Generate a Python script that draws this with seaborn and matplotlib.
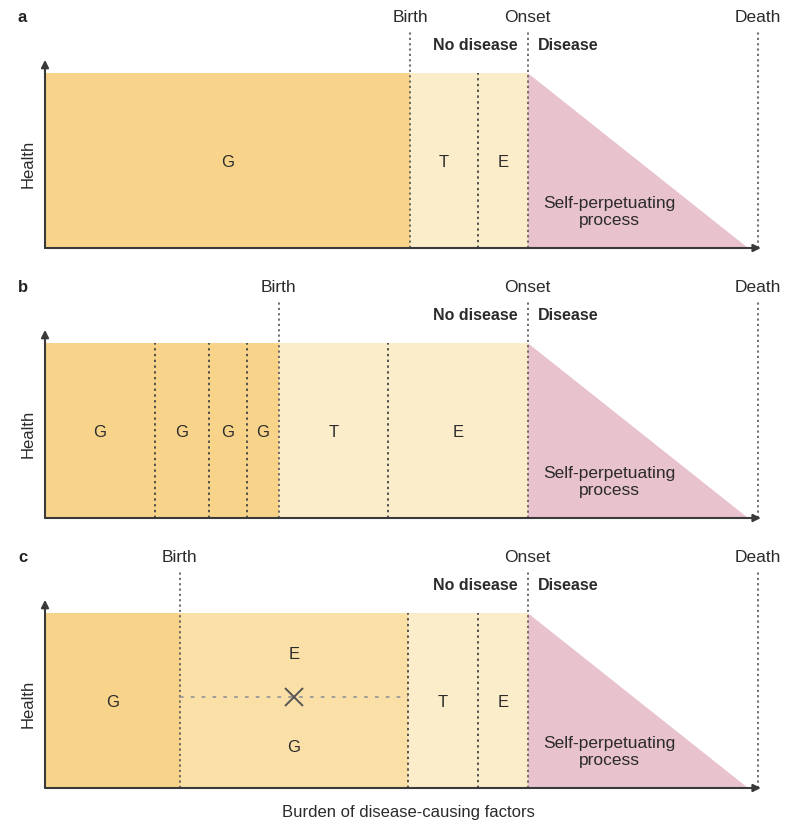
import matplotlib
matplotlib.use("Agg")
import matplotlib.pyplot as plt
import seaborn as sns

sns.set_theme(style="white")
plt.rcParams['font.family'] = ['Liberation Sans', 'DejaVu Sans']

# burden of disease-causing factors, 0 = conception, 100 = death
death = 100.0
tri_end = 98.6

# panel a
a_edges = [0, 51.2, 60.7, 67.7]
a_kinds = ["gene", "post", "post"]
a_labels = ["G", "T", "E"]
a_birth = 51.2
a_inner = [60.7]

# panel b
b_edges = [0, 15.4, 23.0, 28.3, 32.8, 48.1, 67.7]
b_kinds = ["gene", "gene", "gene", "gene", "post", "post"]
b_labels = ["G", "G", "G", "G", "T", "E"]
b_birth = 32.8
b_inner = [15.4, 23.0, 28.3, 48.1]

# panel c
c_edges = [0, 18.9, 50.9, 60.7, 67.7]
c_kinds = ["gene", "mix", "post", "post"]
c_labels = ["G", "", "T", "E"]
c_birth = 18.9
c_inner = [50.9, 60.7]

onset = 67.7

colors = {"gene": "#F8D48B", "mix": "#FADFA6", "post": "#FCEDCA"}
pink = "#E8C2CD"
txt = "#2b2b2b"
dot = (0, (1.3, 1.9))

fig = plt.figure(figsize=(7.92, 8.24), dpi=100)

panels = [
    ("a", a_edges, a_kinds, a_labels, a_birth, a_inner, 248),
    ("b", b_edges, b_kinds, b_labels, b_birth, b_inner, 518),
    ("c", c_edges, c_kinds, c_labels, c_birth, c_inner, 788),
]

for letter, edges, kinds, labels, birth, inner, bottom_px in panels:
    ax = fig.add_axes([45 / 792, (824 - bottom_px) / 824, 713 / 792, 175 / 824])
    ax.set_xlim(0, death)
    ax.set_ylim(0, 1)
    ax.axis("off")

    # shaded blocks
    for x0, x1, kind, lab in zip(edges[:-1], edges[1:], kinds, labels):
        ax.fill_between([x0, x1], 0, 1, color=colors[kind], lw=0)
        if lab:
            ax.text((x0 + x1) / 2, 0.49, lab, ha="center", va="center",
                    fontsize=12, color=txt)

    # self-perpetuating disease process
    ax.fill([onset, onset, tri_end], [0, 1, 0], color=pink, lw=0)
    ax.text(79.2, 0.205, "Self-perpetuating\nprocess", ha="center", va="center",
            fontsize=12.5, color=txt, linespacing=1.2)

    # inner dividers
    for x in inner:
        ax.vlines(x, 0, 1, color="#444444", lw=1.3, linestyles=dot)

    # milestone lines
    for x, name in [(birth, "Birth"), (onset, "Onset"), (death, "Death")]:
        ax.vlines(x, 0, 1.245, color="#555555", lw=1.2, linestyles=dot, clip_on=False)
        ax.text(x, 1.32, name, ha="center", va="center", fontsize=12.5, color=txt)

    ax.text(onset - 1.4, 1.16, "No disease", ha="right", va="center",
            fontsize=11.5, fontweight="bold", color=txt)
    ax.text(onset + 1.4, 1.16, "Disease", ha="left", va="center",
            fontsize=11.5, fontweight="bold", color=txt)

    ax.text(-3.8, 1.32, letter, ha="left", va="center", fontsize=12,
            fontweight="bold", color="#222222")
    ax.text(-2.4, 0.48, "Health", ha="center", va="center", rotation=90,
            fontsize=12, color=txt)

    # axes with arrows
    arrow = dict(arrowstyle="-|>", color="#3a3a3a", lw=1.5, mutation_scale=11,
                 shrinkA=0, shrinkB=0)
    ax.annotate("", xy=(0, 1.075), xytext=(0, 0), arrowprops=arrow,
                annotation_clip=False)
    ax.annotate("", xy=(100.4, 0), xytext=(0, 0), arrowprops=arrow,
                annotation_clip=False)

    if letter == "c":
        mid = (c_edges[1] + c_edges[2]) / 2
        ax.hlines(0.52, c_edges[1], c_edges[2], color="#999999", lw=1.3,
                  linestyles=(0, (2, 4)))
        ax.plot([mid], [0.52], marker="x", markersize=13, mew=1.4, color="#555555")
        ax.text(mid, 0.763, "E", ha="center", va="center", fontsize=12, color=txt)
        ax.text(mid, 0.234, "G", ha="center", va="center", fontsize=12, color=txt)

fig.text(408 / 792, 1 - 813 / 824, "Burden of disease-causing factors",
         ha="center", va="center", fontsize=12, color=txt)

fig.savefig("out.png", dpi=100)
